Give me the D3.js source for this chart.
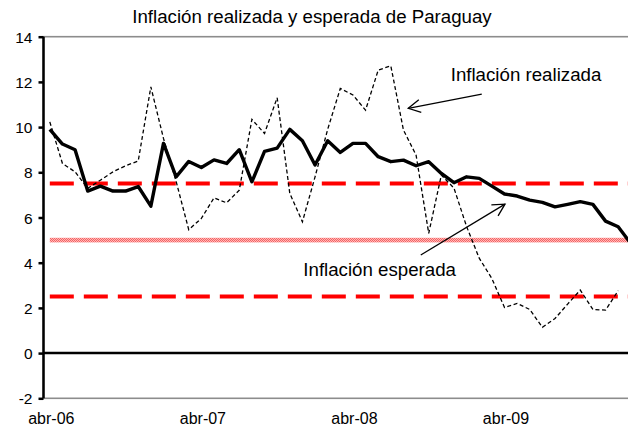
<!DOCTYPE html>
<html><head><meta charset="utf-8">
<script src="https://cdn.jsdelivr.net/npm/d3@7"></script>
<style>
html,body{margin:0;padding:0;background:#fff;}
svg{display:block;}
text{font-family:"Liberation Sans",Arial,sans-serif;fill:#000;}
</style></head>
<body>
<svg id="chart" width="628" height="427"></svg>
<script>
const categories = ["abr-06","may-06","jun-06","jul-06","ago-06","sep-06","oct-06","nov-06","dic-06","ene-07","feb-07","mar-07",
  "abr-07","may-07","jun-07","jul-07","ago-07","sep-07","oct-07","nov-07","dic-07","ene-08","feb-08","mar-08",
  "abr-08","may-08","jun-08","jul-08","ago-08","sep-08","oct-08","nov-08","dic-08","ene-09","feb-09","mar-09",
  "abr-09","may-09","jun-09","jul-09","ago-09","sep-09","oct-09","nov-09","dic-09","ene-10","feb-10"];
const inflacionEsperada = [9.9,9.25,9.0,7.17,7.39,7.17,7.17,7.37,6.5,9.28,7.8,8.48,
  8.21,8.55,8.39,9.0,7.58,8.93,9.07,9.9,9.4,8.32,9.4,8.88,
  9.28,9.28,8.69,8.47,8.54,8.29,8.47,7.95,7.54,7.8,7.73,7.39,
  7.04,6.95,6.77,6.67,6.47,6.58,6.7,6.58,5.84,5.59,4.85];
const inflacionRealizada = [10.23,8.39,8.02,7.29,7.65,8.02,8.29,8.5,11.78,9.5,7.6,5.46,
  5.96,6.87,6.65,7.21,10.34,9.72,11.3,7.07,5.81,7.8,9.9,11.71,
  11.42,10.75,12.52,12.71,9.87,8.76,5.3,7.88,7.3,5.6,4.2,3.3,
  2.02,2.2,1.93,1.14,1.53,2.17,2.79,1.93,1.9,2.76,null];
const metaCentral = 5;
const rangoSuperior = 7.5;
const rangoInferior = 2.5;
const yTicks = [-2,0,2,4,6,8,10,12,14];
const xTickLabels = ["abr-06","abr-07","abr-08","abr-09"];
const titulo = "Inflación realizada y esperada de Paraguay";
// annotations in data space: [category index, value]
const notaRealizada = {text:"Inflación realizada", label:[31.74,12.04], from:[34.2,11.46], to:[28.38,10.83]};
const notaEsperada = {text:"Inflación esperada", label:[20.07,3.42], from:[29.37,4.34], to:[36.04,6.59]};

(function(){
const svg = d3.select("#chart");
const pLeft = 43.5, pTop = 36.7, pBottom = 398.3;
const bandW = 12.63;
const x = d3.scaleBand().domain(categories).range([pLeft, pLeft + categories.length*bandW]).padding(0);
const cx = c => x(c) + x.bandwidth()/2;
const xi = d3.scaleLinear().domain([0, categories.length-1]).range([cx(categories[0]), cx(categories[categories.length-1])]);
const y = d3.scaleLinear().domain([-2,14]).range([pBottom, pTop]);
const pRight = pLeft + categories.length*bandW;

const defs = svg.append("defs");
const pat = defs.append("pattern").attr("id","pinkpat").attr("patternUnits","userSpaceOnUse")
  .attr("width",2).attr("height",2);
pat.append("rect").attr("width",2).attr("height",2).attr("fill","#FFB8B8");
pat.append("rect").attr("width",1).attr("height",1).attr("fill","#F46464");
pat.append("rect").attr("x",1).attr("y",1).attr("width",1).attr("height",1).attr("fill","#F46464");
defs.append("marker").attr("id","arrow").attr("markerUnits","userSpaceOnUse")
  .attr("markerWidth",20).attr("markerHeight",20).attr("refX",0).attr("refY",0)
  .attr("viewBox","-15 -10 20 20").attr("orient","auto")
  .append("path").attr("d","M-12,-6.5L0,0L-12,6.5").attr("fill","none").attr("stroke","#000").attr("stroke-width",1.3);

svg.append("rect").attr("x",pLeft).attr("y",pTop).attr("width",pRight-pLeft).attr("height",pBottom-pTop)
  .attr("fill","none").attr("stroke","#8c8c8c").attr("stroke-width",1.6);

svg.append("text").attr("x",312).attr("y",22.7).attr("text-anchor","middle")
  .style("font-size","18.7px").text(titulo);

const x0 = cx(categories[0]), xN = cx(categories[categories.length-1]);
svg.append("rect").attr("x",x0).attr("y",y(metaCentral)-2.3).attr("width",xN-x0).attr("height",4.6)
  .attr("fill","url(#pinkpat)");
[rangoSuperior, rangoInferior].forEach(v => {
  svg.append("line").attr("x1",x0).attr("x2",xN).attr("y1",y(v)).attr("y2",y(v))
    .attr("stroke","#FF0000").attr("stroke-width",4).attr("stroke-dasharray","24,10");
});

svg.append("line").attr("x1",pLeft).attr("x2",pRight).attr("y1",y(0)).attr("y2",y(0))
  .attr("stroke","#000").attr("stroke-width",2.5);

const yAxis = d3.axisLeft(y).tickValues(yTicks).tickSize(5).tickPadding(6).tickFormat(d => String(d));
const gy = svg.append("g").attr("transform",`translate(${pLeft},0)`).call(yAxis);
gy.select(".domain").attr("stroke","#000").attr("stroke-width",2.5).attr("d",`M0,${pTop}V${pBottom}`);
gy.selectAll(".tick line").attr("stroke","#000").attr("stroke-width",2.5);
gy.selectAll(".tick text").style("font-size","15.5px").style("font-family","'Liberation Sans',Arial,sans-serif").attr("dy","0.36em");

svg.append("g").selectAll("text").data(xTickLabels).join("text")
  .attr("x", d => cx(d) + 1.5).attr("y", 424).attr("text-anchor","middle")
  .style("font-size","16px").text(d => d);

const lineGen = d3.line().defined(d => d[1] != null).x(d => cx(d[0])).y(d => y(d[1]));
svg.append("path").datum(categories.map((c,i)=>[c, inflacionRealizada[i]]))
  .attr("d", lineGen).attr("fill","none").attr("stroke","#000").attr("stroke-width",1.3)
  .attr("stroke-dasharray","4,2.6");
svg.append("path").datum(categories.map((c,i)=>[c, inflacionEsperada[i]]))
  .attr("d", lineGen).attr("fill","none").attr("stroke","#000").attr("stroke-width",3.4)
  .attr("stroke-linejoin","round");

[notaRealizada, notaEsperada].forEach(n => {
  svg.append("line").attr("x1",xi(n.from[0])).attr("y1",y(n.from[1]))
    .attr("x2",xi(n.to[0])).attr("y2",y(n.to[1]))
    .attr("stroke","#000").attr("stroke-width",1.3).attr("marker-end","url(#arrow)");
  svg.append("text").attr("x",xi(n.label[0])).attr("y",y(n.label[1]))
    .style("font-size","18.7px").text(n.text);
});
})();
</script>
</body></html>
